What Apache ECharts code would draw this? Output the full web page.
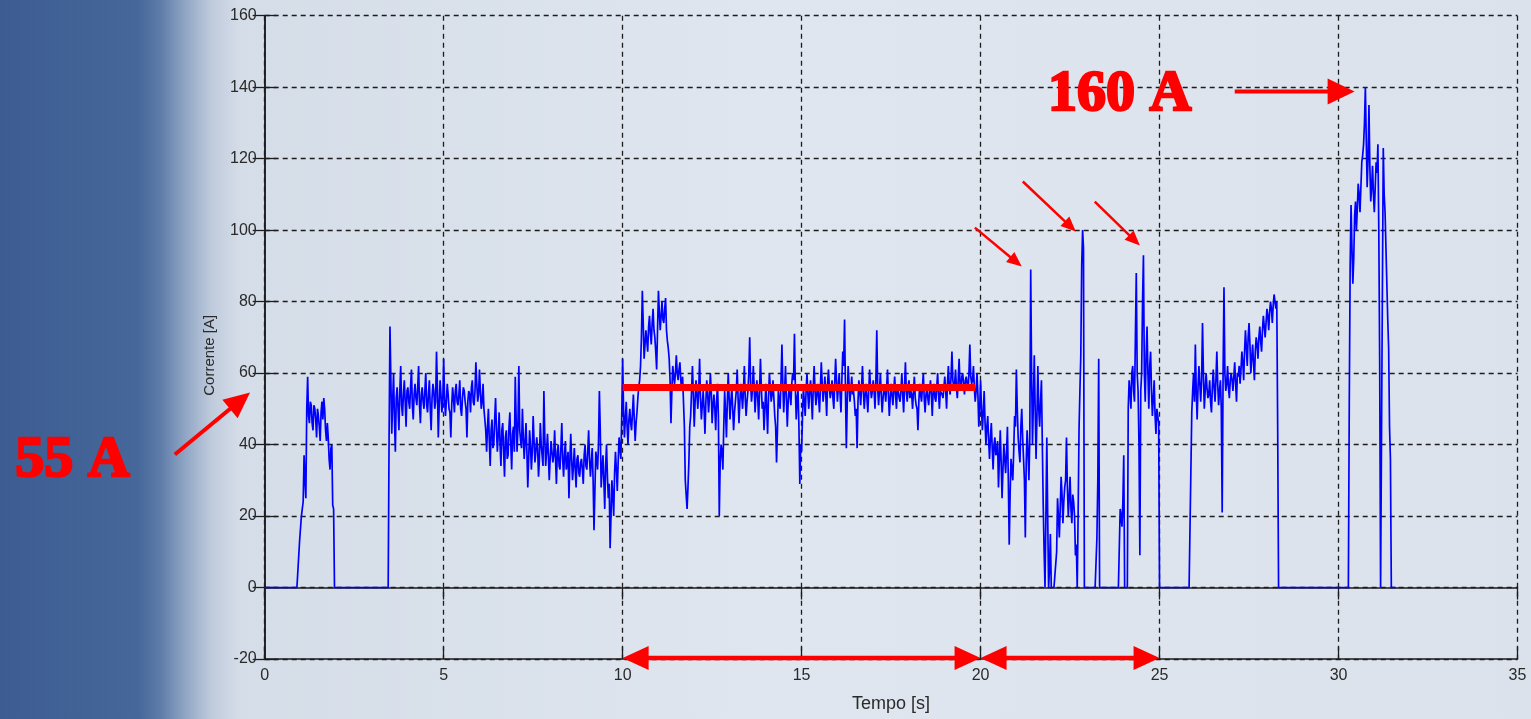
<!DOCTYPE html>
<html><head><meta charset="utf-8">
<script src="https://cdn.jsdelivr.net/npm/echarts@6/dist/echarts.min.js"></script>
<style>html,body{margin:0;padding:0;width:1531px;height:719px;overflow:hidden}#c{width:1531px;height:719px}</style>
</head><body><div id="c"></div>
<script>
// ---- data: current in A. Main samples every 0.05 s from each segment start,
// ---- "mid" samples every 0.05 s offset by 0.025 s (read in between).
const sampleStep = 0.05;
const midOffset = 0.025;
const segmentStarts = [0, 5, 10, 15, 20, 25, 30];
const current0to5 = [
  0,0,0,0,0,0,0,0,0,0, 0,0,0,0,0,0,0,0,0,0,
  13,22,37,25,59,46,51,44,50,42, 48,41,52,53,44,46,36,39,23,0,
  0,0,0,0,0,0,0,0,0,0, 0,0,0,0,0,0,0,0,0,0, 0,0,0,0,0,0,0,0,0,0,
  73,43,60,38,56,44,62,48,58,45, 56,50,61,47,57,51,62,46,56,50,
  60,49,58,44,57,50,66,42,58,49
];
const current0to5Mid = [
  0,0,0,0,0,0,0,0,0,0, 0,0,0,0,0,0,0,0,0,13,
  20,24,30,50,48,52,46,51,47,50, 45,49,47,50,41,42,33,40,22,0,
  0,0,0,0,0,0,0,0,0,0, 0,0,0,0,0,0,0,0,0,0, 0,0,0,0,0,0,0,0,0,42,
  58,52,47,53,50,55,51,54,52,55, 52,56,51,54,53,56,51,54,52,55,
  51,54,50,53,55,52,56,51,54,52
];
const current5to10 = [
  64,48,57,50,42,56,49,57,51,58, 48,56,52,42,55,49,58,51,63,52,
  61,50,57,47,38,50,34,47,40,53, 38,49,34,46,31,44,37,49,33,45,
  59,38,62,41,50,36,46,28,44,33, 48,35,42,31,46,37,55,34,43,30,
  41,35,44,29,40,33,46,31,41,35, 25,43,30,39,28,37,31,36,29,40,
  33,44,31,39,16,38,33,55,28,37, 22,40,25,11,30,20,38,27,42,36
];
const current5to10Mid = [
  53,52,54,49,51,53,55,52,54,50, 53,55,50,52,54,56,52,55,57,54,
  55,52,50,44,45,41,44,39,47,44, 43,40,44,38,42,36,45,40,43,38,
  47,45,44,39,42,41,38,36,40,38, 41,38,39,36,40,34,42,38,37,36,
  38,37,36,38,34,39,36,37,33,38, 35,36,34,33,36,32,35,33,37,34,
  38,36,35,30,27,36,40,44,33,30, 34,31,29,20,26,32,33,35,39,48
];
const current10to15 = [
  64,42,52,40,50,44,54,41,49,56, 62,83,64,72,66,76,68,78,70,61,
  83,72,80,74,81,69,64,46,62,57, 65,58,63,55,52,30,22,35,48,62,
  45,58,50,64,47,55,43,58,49,60, 46,54,44,57,20,40,33,55,42,60,
  47,56,44,52,61,46,57,50,62,48, 55,70,52,62,49,58,47,64,50,44,
  57,43,60,52,58,48,35,55,50,68, 49,62,45,56,51,60,71,47,55,29
];
const current10to15Mid = [
  50,47,45,47,46,49,47,46,53,58, 70,74,68,69,73,71,74,72,66,72,
  77,76,75,78,72,67,58,55,59,60, 60,61,58,59,45,26,28,45,55,54,
  52,54,55,53,51,50,52,54,53,55, 51,50,52,48,35,38,45,49,52,53,
  52,50,49,55,53,52,54,55,53,52, 60,57,55,56,54,53,55,56,52,50,
  50,53,56,54,53,45,44,52,58,57, 55,53,52,54,57,58,56,53,45,40
];
const current15to20 = [
  38,56,48,60,50,58,47,62,51,57, 49,63,52,59,48,61,53,58,50,64,
  52,60,49,66,75,39,62,52,59,55, 48,39,58,51,62,50,57,49,61,53,
  58,50,72,51,60,49,56,52,61,48, 57,51,59,50,55,52,60,49,63,52,
  58,55,50,59,51,44,57,52,60,49, 56,51,58,48,57,52,60,50,55,53,
  59,50,62,54,66,56,61,53,64,55, 60,54,59,55,68,57,62,52,60,45
];
const current15to20Mid = [
  48,52,55,54,55,53,56,55,54,53, 56,57,55,54,57,56,55,53,57,58,
  56,54,58,62,55,52,57,55,54,52, 50,52,55,56,55,54,53,55,56,55,
  55,58,56,55,54,53,55,56,54,53, 54,55,54,56,53,55,54,56,55,56,
  53,54,55,53,50,52,54,56,53,54, 53,55,54,55,53,56,54,55,54,56,
  55,57,56,59,58,57,56,58,57,59, 57,58,57,60,59,58,56,55,54,50
];
const current20to25 = [
  58,44,55,40,48,36,46,33,42,38, 28,44,25,40,32,45,12,36,30,48,
  61,42,35,50,36,14,44,30,89,40, 65,36,62,45,58,23,0,42,0,15,
  0,0,0,25,14,31,18,28,42,20, 31,18,24,9,0,44,65,100,0,0,
  0,0,0,0,0,14,64,0,0,0, 0,0,0,0,0,0,0,0,22,17,
  37,0,0,58,50,62,52,88,55,9, 60,93,52,73,50,66,48,58,43,50
];
const current20to25Mid = [
  50,49,46,45,41,42,39,40,37,41, 36,35,33,36,38,30,26,33,38,45,
  50,38,45,42,30,35,38,42,60,52, 50,48,50,52,40,10,20,20,5,0,
  0,0,10,20,22,26,24,30,28,25, 22,26,20,12,20,55,90,95,0,0,
  0,0,0,0,0,30,0,0,0,0, 0,0,0,0,0,0,0,0,20,24,
  0,0,50,55,60,55,70,60,40,55, 80,60,65,60,62,55,53,48,50,46
];
const current25to30 = [
  0,0,0,0,0,0,0,0,0,0, 0,0,0,0,0,0,0,0,49,60,
  68,47,62,52,74,50,60,53,58,49, 61,52,66,51,58,21,84,55,62,53,
  60,55,63,52,59,57,66,58,72,62, 74,60,68,58,70,64,73,66,76,70,
  78,72,80,74,82,78,45,0,0,0, 0,0,0,0,0,0,0,0,0,0,
  0,0,0,0,0,0,0,0,0,0, 0,0,0,0,0,0,0,0,0,0
];
const current25to30Mid = [
  0,0,0,0,0,0,0,0,0,0, 0,0,0,0,0,0,0,0,55,52,
  55,56,57,58,60,55,56,54,52,56, 56,58,57,55,50,60,60,57,56,58,
  58,59,57,60,62,61,63,66,67,70, 68,64,63,66,68,70,69,72,73,74,
  76,77,78,79,80,80,0,0,0,0, 0,0,0,0,0,0,0,0,0,0,
  0,0,0,0,0,0,0,0,0,0, 0,0,0,0,0,0,0,0,0,0
];
const current30to32 = [
  0,0,0,0,0,0, 51,107,85,104,100,113,105,119,124,140,
  112,135,108,118,105,119,124,63,0,123,105,85,67,36,0,0,0
];
const current30to32Mid = [
  0,0,0,0,0,0, 90,95,92,108,106,110,112,121,130,125,
  120,118,112,110,112,116,100,0,0,110,95,75,45,0,0,0
];
const segments = [current0to5, current5to10, current10to15, current15to20, current20to25, current25to30, current30to32];
const midSegments = [current0to5Mid, current5to10Mid, current10to15Mid, current15to20Mid, current20to25Mid, current25to30Mid, current30to32Mid];

// axes
const xMin = 0, xMax = 35, xStep = 5;
const yMin = -20, yMax = 160, yStep = 20;
const xName = 'Tempo [s]';
const yName = 'Corrente [A]';

// annotations (data units)
const meanLevel = 56, meanFrom = 10, meanTo = 19.85;
const spanArrows = [[10, 20], [20, 25]];
const spanLevel = -19.7;
const callouts = [
  {from: [-2.51, 37.2], to: [-0.41, 54.6], w: 4, len: 26, hw: 24},
  {from: [27.1, 138.8], to: [30.45, 138.8], w: 4, len: 27, hw: 26},
  {from: [19.84, 100.7], to: [21.15, 89.8], w: 2.5, len: 15, hw: 13},
  {from: [21.18, 113.6], to: [22.66, 99.6], w: 2.5, len: 15, hw: 13},
  {from: [23.19, 108.0], to: [24.45, 95.7], w: 2.5, len: 15, hw: 13}
];
const bigLabels = [
  {text: '55 A', at: [-6.97, 35.5]},
  {text: '160 A', at: [21.88, 137.7]}
];

// ---- build ----
const seriesData = [];
segments.forEach((seg, k) => {
  seg.forEach((v, i) => seriesData.push([+(segmentStarts[k] + i * sampleStep).toFixed(3), v]));
  midSegments[k].forEach((v, i) => seriesData.push([+(segmentStarts[k] + midOffset + i * sampleStep).toFixed(3), v]));
});
seriesData.sort((a, b) => a[0] - b[0]);

const chart = echarts.init(document.getElementById('c'), null, {renderer: 'canvas'});
const gridCol = '#1c1c1c';
const labelFont = {fontFamily: '"Liberation Sans", Arial, sans-serif', fontSize: 16, color: '#2a2a2a'};

function mirrorAxis(pos, min, max, step) {
  return {type: 'value', position: pos, min, max, interval: step,
    axisLine: {show: true, lineStyle: {color: gridCol, width: 1.5}},
    axisTick: {show: true, inside: true, length: 12, lineStyle: {color: gridCol, width: 1.3}},
    axisLabel: {show: false}, splitLine: {show: false}};
}

chart.setOption({
  animation: false,
  backgroundColor: new echarts.graphic.LinearGradient(0, 0, 1, 0, [
    {offset: 0, color: '#3d5d92'},
    {offset: 0.09, color: '#46679a'},
    {offset: 0.105, color: '#5f7ca9'},
    {offset: 0.122, color: '#93a8c6'},
    {offset: 0.138, color: '#bfcbdc'},
    {offset: 0.157, color: '#d5dde8'},
    {offset: 0.5, color: '#dfe6ef'},
    {offset: 1, color: '#dbe2ec'}
  ]),
  grid: {left: 264.7, right: 13.5, top: 15.7, bottom: 60, show: false},
  xAxis: [
    {type: 'value', min: xMin, max: xMax, interval: xStep, position: 'bottom',
      name: xName, nameLocation: 'middle', nameGap: 36,
      nameTextStyle: {fontFamily: '"Liberation Sans", Arial, sans-serif', fontSize: 18, color: '#2a2a2a'},
      axisLine: {show: true, onZero: false, lineStyle: {color: gridCol, width: 1.5}},
      axisTick: {show: true, inside: true, length: 12, lineStyle: {color: gridCol, width: 1.3}},
      axisLabel: Object.assign({margin: 9}, labelFont),
      splitLine: {show: true, lineStyle: {color: gridCol, type: [5, 4], width: 1.3}}},
    mirrorAxis('top', xMin, xMax, xStep)
  ],
  yAxis: [
    {type: 'value', min: yMin, max: yMax, interval: yStep, position: 'left',
      name: yName, nameLocation: 'middle', nameGap: 47,
      nameTextStyle: {fontFamily: '"Liberation Sans", Arial, sans-serif', fontSize: 15, color: '#2a2a2a', padding: [0, 36, 0, 0]},
      axisLine: {show: true, onZero: false, lineStyle: {color: gridCol, width: 1.5}},
      axisTick: {show: true, inside: true, length: 12, lineStyle: {color: gridCol, width: 1.3}},
      axisLabel: Object.assign({margin: 8}, labelFont),
      splitLine: {show: true, lineStyle: {color: gridCol, type: [5, 4], width: 1.3}}},
    mirrorAxis('right', yMin, yMax, yStep)
  ],
  series: [{
    type: 'line', data: seriesData, showSymbol: false, symbol: 'none',
    lineStyle: {color: '#0000ff', width: 1.7}, z: 3
  }]
});

// ---- annotations ----
function px(p) { return chart.convertToPixel({xAxisIndex: 0, yAxisIndex: 0}, p); }
function arrowEls(p0, p1, w, len, hw, both) {
  const dx = p1[0] - p0[0], dy = p1[1] - p0[1];
  const L = Math.hypot(dx, dy), ux = dx / L, uy = dy / L, nx = -uy, ny = ux;
  const els = [];
  const s = both ? [p0[0] + ux * len * 0.9, p0[1] + uy * len * 0.9] : p0;
  const e = [p1[0] - ux * len * 0.9, p1[1] - uy * len * 0.9];
  els.push({type: 'line', shape: {x1: s[0], y1: s[1], x2: e[0], y2: e[1]}, style: {stroke: '#ff0000', lineWidth: w}, z: 20});
  const head = (tip, ux, uy) => {
    const bx = tip[0] - ux * len, by = tip[1] - uy * len;
    return {type: 'polygon', shape: {points: [tip, [bx + nx * hw / 2, by + ny * hw / 2], [bx - nx * hw / 2, by - ny * hw / 2]]},
      style: {fill: '#ff0000'}, z: 20};
  };
  els.push(head(p1, ux, uy));
  if (both) els.push(head(p0, -ux, -uy));
  return els;
}
const g = [];
const m0 = px([meanFrom, meanLevel]), m1 = px([meanTo, meanLevel]);
g.push({type: 'line', shape: {x1: m0[0], y1: m0[1], x2: m1[0], y2: m1[1]}, style: {stroke: '#ff0000', lineWidth: 7}, z: 20});
spanArrows.forEach(([a, b]) => {
  arrowEls(px([a, spanLevel]), px([b, spanLevel]), 4.5, 26, 24, true).forEach(e => g.push(e));
});
callouts.forEach(c => arrowEls(px(c.from), px(c.to), c.w, c.len, c.hw, false).forEach(e => g.push(e)));
bigLabels.forEach(l => {
  const p = px(l.at);
  g.push({type: 'text', x: p[0], y: p[1], z: 21,
    style: {text: l.text, fill: '#ff0000', stroke: '#ff0000', lineWidth: 2.5,
      font: 'bold 58px "Liberation Serif", "Times New Roman", serif',
      textAlign: 'left', textVerticalAlign: 'middle'}});
});
chart.setOption({graphic: g});
</script>
</body></html>
